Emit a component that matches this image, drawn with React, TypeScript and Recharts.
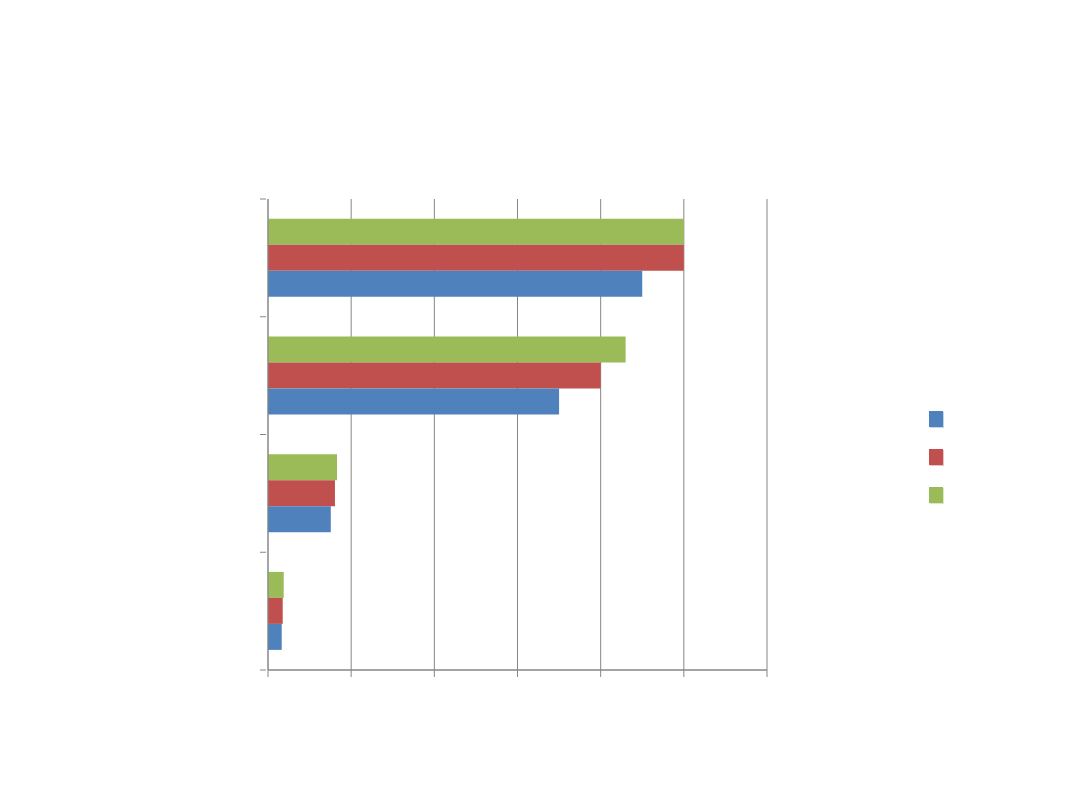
import React from 'react';
import { BarChart, Bar, XAxis, YAxis, CartesianGrid, Legend } from 'recharts';

// categories listed bottom to top, as the chart shows them
const categories = ['Category 1', 'Category 2', 'Category 3', 'Category 4'];
const series1 = [1.65, 7.55, 35, 45];
const series2 = [1.77, 8.05, 40, 50];
const series3 = [1.89, 8.3, 43, 50];
const valueTicks = [0, 10, 20, 30, 40, 50, 60];

const seriesInfo = [
    { key: 'Series 1', color: '#4F81BD', values: series1 },
    { key: 'Series 2', color: '#C0504D', values: series2 },
    { key: 'Series 3', color: '#9BBB59', values: series3 },
];

const data = categories.map((name, i) => {
    const row: any = { name };
    seriesInfo.forEach(s => { row[s.key] = s.values[i]; });
    return row;
});

const AXIS = '#868686';

// no tick labels in the original, only the tick marks
const NoLabel = () => <g />;

// Excel puts category tick marks on the band edges, not the centres
const BandEdgeTick = (props: any) => {
    const { x, y, payload, index } = props;
    const half = payload?.offset ?? 0;
    const edges = [y - half];
    if (index === 0) edges.push(y + half);
    return (
        <g>
            {edges.map((ey, i) => (
                <line key={i} x1={x - 6} x2={x} y1={ey} y2={ey} stroke={AXIS} strokeWidth={1} />
            ))}
        </g>
    );
};

const LegendBox = () => (
    <div style={{ position: 'absolute', left: 0, top: 0, display: 'flex', flexDirection: 'column', gap: 21 }}>
        {seriesInfo.map(s => (
            <div key={s.key} style={{ position: 'relative', width: 15, height: 17 }}>
                <div style={{ position: 'absolute', left: 1, top: 1, width: 14, height: 16, background: s.color, opacity: 0.35 }} />
                <div style={{ position: 'absolute', left: 0, top: 0, width: 14, height: 16, background: s.color }} />
            </div>
        ))}
    </div>
);

export default function App() {
    return (
        <div style={{ position: 'absolute', left: 0, top: 0, width: 1080, height: 810, background: '#fff' }}>
            <BarChart
                width={1080}
                height={810}
                data={data}
                layout="vertical"
                margin={{ top: 199, right: 313, bottom: 130, left: 267 }}
                barCategoryGap="16.67%"
                barGap={0}
            >
                <CartesianGrid
                    stroke={AXIS}
                    strokeWidth={1}
                    horizontalCoordinatesGenerator={({ offset }: any) => [offset.top + offset.height]}
                />
                <XAxis
                    type="number"
                    domain={[0, 60]}
                    ticks={valueTicks}
                    interval={0}
                    height={10}
                    tick={NoLabel}
                    axisLine={{ stroke: AXIS, strokeWidth: 1 }}
                    tickLine={{ stroke: AXIS }}
                    tickSize={7}
                />
                <YAxis
                    type="category"
                    dataKey="name"
                    reversed
                    interval={0}
                    width={1}
                    tick={<BandEdgeTick />}
                    tickLine={false}
                    axisLine={{ stroke: AXIS, strokeWidth: 1 }}
                    tickSize={0}
                />
                <Legend
                    content={<LegendBox />}
                    wrapperStyle={{ position: 'absolute', left: 929, top: 411, width: 0, height: 0, overflow: 'visible' }}
                />
                {[...seriesInfo].reverse().map(s => (
                    <Bar key={s.key} dataKey={s.key} fill={s.color} isAnimationActive={false} />
                ))}
            </BarChart>
        </div>
    );
}
